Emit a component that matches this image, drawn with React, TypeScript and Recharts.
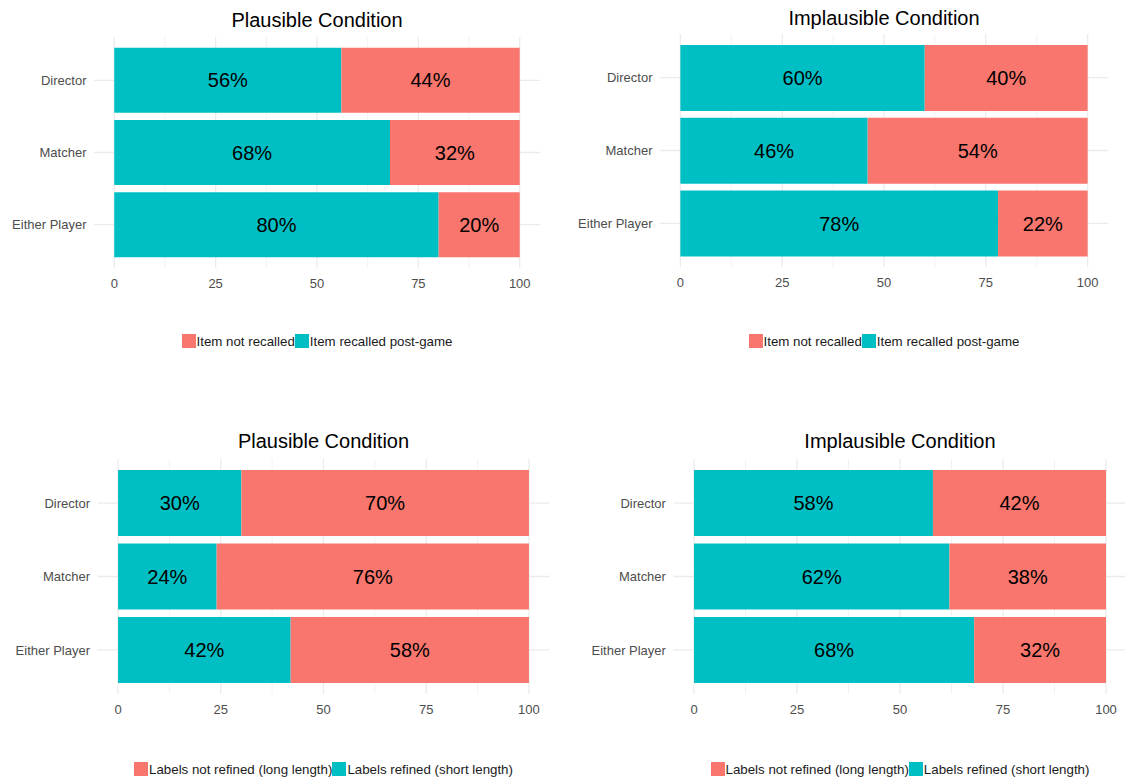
import { BarChart, Bar, XAxis, YAxis, CartesianGrid, LabelList } from 'recharts';

const FONT = '"Liberation Sans", Arial, sans-serif';
const TEAL = '#00BFC4';
const SALMON = '#F8766D';

const categories = ['Director', 'Matcher', 'Either Player'];
const xTicks = [0, 25, 50, 75, 100];
const minorTicks = [12.5, 37.5, 62.5, 87.5];

// item recall, top row
const recalledPlausible = [56, 68, 80];
const notRecalledPlausible = [44, 32, 20];
const recalledImplausible = [60, 46, 78];
const notRecalledImplausible = [40, 54, 22];

// label refinement, bottom row
const refinedPlausible = [30, 24, 42];
const notRefinedPlausible = [70, 76, 58];
const refinedImplausible = [58, 62, 68];
const notRefinedImplausible = [42, 38, 32];

const recallLegend: [string, string] = ['Item not recalled', 'Item recalled post-game'];
const refineLegend: [string, string] = ['Labels not refined (long length)', 'Labels refined (short length)'];

interface PlotBox {
  x0: number;
  x1: number;
  y0: number;
  y1: number;
}

interface PanelProps {
  title: string;
  left: number;
  top: number;
  plot: PlotBox;
  teal: number[];
  salmon: number[];
  legend: [string, string];
  titleY: number;
  legendY: number;
}

function Panel({ title, left, top, plot, teal, salmon, legend, titleY, legendY }: PanelProps) {
  const data = categories.map((name, i) => ({ name, teal: teal[i], salmon: salmon[i] }));
  const plotW = plot.x1 - plot.x0;
  const plotH = plot.y1 - plot.y0;
  // ggplot-style discrete expansion: 0.6 of a band beyond each outer centre
  const band = plotH / 3.2;
  const pad = band * 0.1;

  return (
    <>
      <div
        style={{
          position: 'absolute', left: plot.x0, top: titleY - 12, width: plotW,
          textAlign: 'center', fontSize: 20, lineHeight: '24px', color: '#000', fontFamily: FONT,
        }}
      >
        {title}
      </div>
      <div style={{ position: 'absolute', left, top }}>
        <BarChart
          width={plot.x1 - left + 20}
          height={plot.y1 - top + 30}
          data={data}
          layout="vertical"
          margin={{ top: plot.y0 - top, right: 20, bottom: 0, left: 0 }}
          barCategoryGap="5%"
          barGap={0}
        >
          <CartesianGrid horizontal={false} verticalValues={minorTicks} stroke="#F2F2F2" strokeWidth={1} />
          <CartesianGrid horizontal={false} verticalValues={xTicks} stroke="#EBEBEB" strokeWidth={1.3} />
          <CartesianGrid vertical={false} horizontalValues={categories} stroke="#EBEBEB" strokeWidth={1.3} />
          <XAxis
            type="number"
            domain={[-5, 105]}
            ticks={xTicks}
            axisLine={false}
            tickLine={false}
            tickSize={0}
            tickMargin={11}
            height={30}
            tick={{ fill: '#4D4D4D', fontSize: 13, fontFamily: FONT }}
          />
          <YAxis
            type="category"
            dataKey="name"
            width={plot.x0 - left}
            axisLine={false}
            tickLine={false}
            tickSize={0}
            tickMargin={7.5}
            padding={{ top: pad, bottom: pad }}
            tick={{ fill: '#4D4D4D', fontSize: 13, fontFamily: FONT }}
          />
          <Bar dataKey="teal" stackId="s" fill={TEAL} isAnimationActive={false}>
            <LabelList
              dataKey="teal"
              position="center"
              formatter={(v: number) => `${v}%`}
              fill="#000"
              fontSize={20}
              fontFamily={FONT}
            />
          </Bar>
          <Bar dataKey="salmon" stackId="s" fill={SALMON} isAnimationActive={false}>
            <LabelList
              dataKey="salmon"
              position="center"
              formatter={(v: number) => `${v}%`}
              fill="#000"
              fontSize={20}
              fontFamily={FONT}
            />
          </Bar>
        </BarChart>
      </div>
      <div
        style={{
          position: 'absolute', left: plot.x0, top: legendY - 8, width: plotW, height: 16,
          display: 'flex', justifyContent: 'center', alignItems: 'center',
          fontFamily: FONT, fontSize: 13.3, color: '#1A1A1A', whiteSpace: 'nowrap',
        }}
      >
        <span style={{ width: 14, height: 14, background: SALMON, display: 'inline-block' }} />
        <span style={{ marginLeft: 1 }}>{legend[0]}</span>
        <span style={{ width: 14, height: 14, background: TEAL, display: 'inline-block' }} />
        <span style={{ marginLeft: 1 }}>{legend[1]}</span>
      </div>
    </>
  );
}

export default function App() {
  return (
    <div
      style={{
        position: 'absolute', left: 0, top: 0, width: 1125, height: 783,
        overflow: 'hidden', background: '#fff',
      }}
    >
      <Panel
        title="Plausible Condition"
        left={0}
        top={0}
        plot={{ x0: 94, x1: 540, y0: 37, y1: 268 }}
        teal={recalledPlausible}
        salmon={notRecalledPlausible}
        legend={recallLegend}
        titleY={20}
        legendY={341}
      />
      <Panel
        title="Implausible Condition"
        left={560}
        top={0}
        plot={{ x0: 660, x1: 1108, y0: 34, y1: 267 }}
        teal={recalledImplausible}
        salmon={notRecalledImplausible}
        legend={recallLegend}
        titleY={18}
        legendY={341}
      />
      <Panel
        title="Plausible Condition"
        left={0}
        top={420}
        plot={{ x0: 97.5, x1: 549.5, y0: 459, y1: 694 }}
        teal={refinedPlausible}
        salmon={notRefinedPlausible}
        legend={refineLegend}
        titleY={441}
        legendY={769}
      />
      <Panel
        title="Implausible Condition"
        left={560}
        top={420}
        plot={{ x0: 673.4, x1: 1126.6, y0: 459, y1: 694 }}
        teal={refinedImplausible}
        salmon={notRefinedImplausible}
        legend={refineLegend}
        titleY={441}
        legendY={769}
      />
    </div>
  );
}
